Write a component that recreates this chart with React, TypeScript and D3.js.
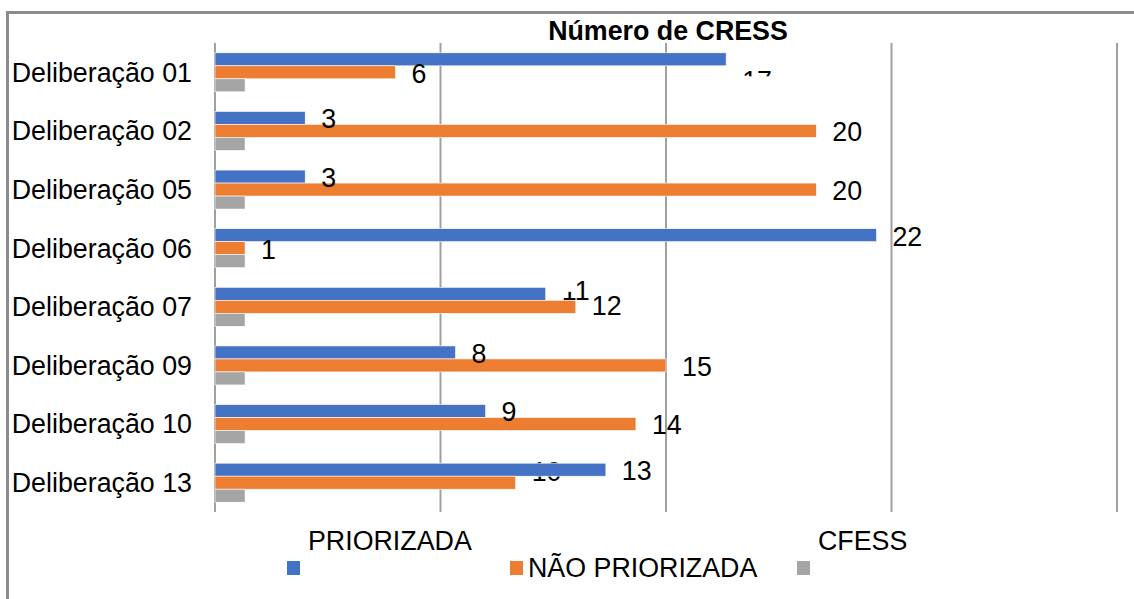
import React from 'react';
import * as d3 from 'd3';

const categories = [
  'Deliberação 01',
  'Deliberação 02',
  'Deliberação 05',
  'Deliberação 06',
  'Deliberação 07',
  'Deliberação 09',
  'Deliberação 10',
  'Deliberação 13',
];
const seriesNames = ['PRIORIZADA', 'NÃO PRIORIZADA', 'CFESS'];
const priorizada = [17, 3, 3, 22, 11, 8, 9, 13];
const naoPriorizada = [6, 20, 20, 1, 12, 15, 14, 10];
const cfess = [1, 1, 1, 1, 1, 1, 1, 1];
const gridTicks = [0, 7.5, 15, 22.5, 30];
const chartTitle = 'Número de CRESS';

const seriesValues = [priorizada, naoPriorizada, cfess];
const seriesColors = ['#4472C4', '#ED7D31', '#A5A5A5'];
const seriesShowLabels = [true, true, false];

// label layout quirks (vertical shift in px, hidden parts, labels drawn beneath bars)
const labelShift: Record<string, number> = { '0-0': 20, '4-0': -4, '7-1': -12, '4-1': -2 };
const labelHide: Record<string, { x0: number; x1: number; y0: number; y1: number }> = {
  '0-0': { x0: -4, x1: 40, y0: -4, y1: 30 },
  '4-0': { x0: -2, x1: 14, y0: -14, y1: 1 },
};
const labelBelowBars: Record<string, boolean> = { '7-1': true };

const W = 1134;
const H = 599;
const FONT = '"Liberation Sans", Arial, sans-serif';

export default function App() {
  const x = d3.scaleLinear().domain([0, 30]).range([215, 1117]);
  const y = d3
    .scaleBand<string>()
    .domain(categories)
    .range([43, 512])
    .paddingInner(0.335)
    .paddingOuter(0.1675);
  const sub = d3
    .scaleBand<string>()
    .domain(seriesNames)
    .range([0, y.bandwidth()]);

  const fs = 26.8;

  const labelsUnder: React.ReactNode[] = [];
  const labelsOver: React.ReactNode[] = [];
  const occluders: React.ReactNode[] = [];
  categories.forEach((c, ci) => {
    seriesNames.forEach((s, si) => {
      if (!seriesShowLabels[si]) return;
      const v = seriesValues[si][ci];
      const key = `${ci}-${si}`;
      const lx = x(v) + 16;
      const cy = (y(c) as number) + (sub(s) as number) + sub.bandwidth() / 2 + 1 + (labelShift[key] || 0);
      const t = (
        <text key={'l' + key} x={lx} y={cy} dy="0.35em" fontSize={fs} fontFamily={FONT} fill="#000">
          {v}
        </text>
      );
      (labelBelowBars[key] ? labelsUnder : labelsOver).push(t);
      const h = labelHide[key];
      if (h) {
        occluders.push(
          <rect key={'o' + key} x={lx + h.x0} y={cy + h.y0} width={h.x1 - h.x0} height={h.y1 - h.y0} fill="#fff" />
        );
      }
    });
  });

  return (
    <svg
      width={W}
      height={H}
      viewBox={`0 0 ${W} ${H}`}
      style={{ position: 'absolute', left: 0, top: 0, background: '#fff', display: 'block' }}
    >
      <rect x={0} y={0} width={W} height={H} fill="#fff" />
      {/* frame */}
      <line x1={6} x2={W} y1={12.5} y2={12.5} stroke="#8c8c8c" strokeWidth={3} />
      <line x1={7.5} x2={7.5} y1={11} y2={H} stroke="#8c8c8c" strokeWidth={3} />

      {/* title */}
      <text x={668} y={31} dy="0.35em" textAnchor="middle" fontSize={26.8} fontWeight="bold" fontFamily={FONT} fill="#000">
        {chartTitle}
      </text>

      {/* gridlines */}
      {gridTicks.map((t) => (
        <line key={t} x1={x(t)} x2={x(t)} y1={43} y2={512} stroke="#a0a0a0" strokeWidth={2} />
      ))}

      {/* category labels */}
      {categories.map((c) => (
        <text
          key={c}
          x={192}
          y={(y(c) as number) + y.bandwidth() / 2}
          dy="0.35em"
          textAnchor="end"
          fontSize={fs}
          fontFamily={FONT}
          fill="#000"
        >
          {c}
        </text>
      ))}

      {labelsUnder}

      {/* bars */}
      {categories.map((c, ci) =>
        seriesNames.map((s, si) => (
          <rect
            key={c + s}
            x={x(0)}
            y={(y(c) as number) + (sub(s) as number)}
            width={x(seriesValues[si][ci]) - x(0)}
            height={sub.bandwidth()}
            fill={seriesColors[si]}
            stroke="#ffffff"
            strokeWidth={0.6}
          />
        ))
      )}

      {labelsOver}
      {occluders}

      {/* legend */}
      <text x={308} y={541} dy="0.35em" fontSize={fs} fontFamily={FONT} fill="#000">
        {seriesNames[0]}
      </text>
      <rect x={287} y={561} width={13} height={14} fill={seriesColors[0]} />
      <rect x={510} y={561} width={13} height={14} fill={seriesColors[1]} />
      <text x={528} y={568} dy="0.35em" fontSize={fs} fontFamily={FONT} fill="#000">
        {seriesNames[1]}
      </text>
      <text x={818} y={541} dy="0.35em" fontSize={fs} fontFamily={FONT} fill="#000">
        {seriesNames[2]}
      </text>
      <rect x={797} y={561} width={13} height={14} fill={seriesColors[2]} />
    </svg>
  );
}
